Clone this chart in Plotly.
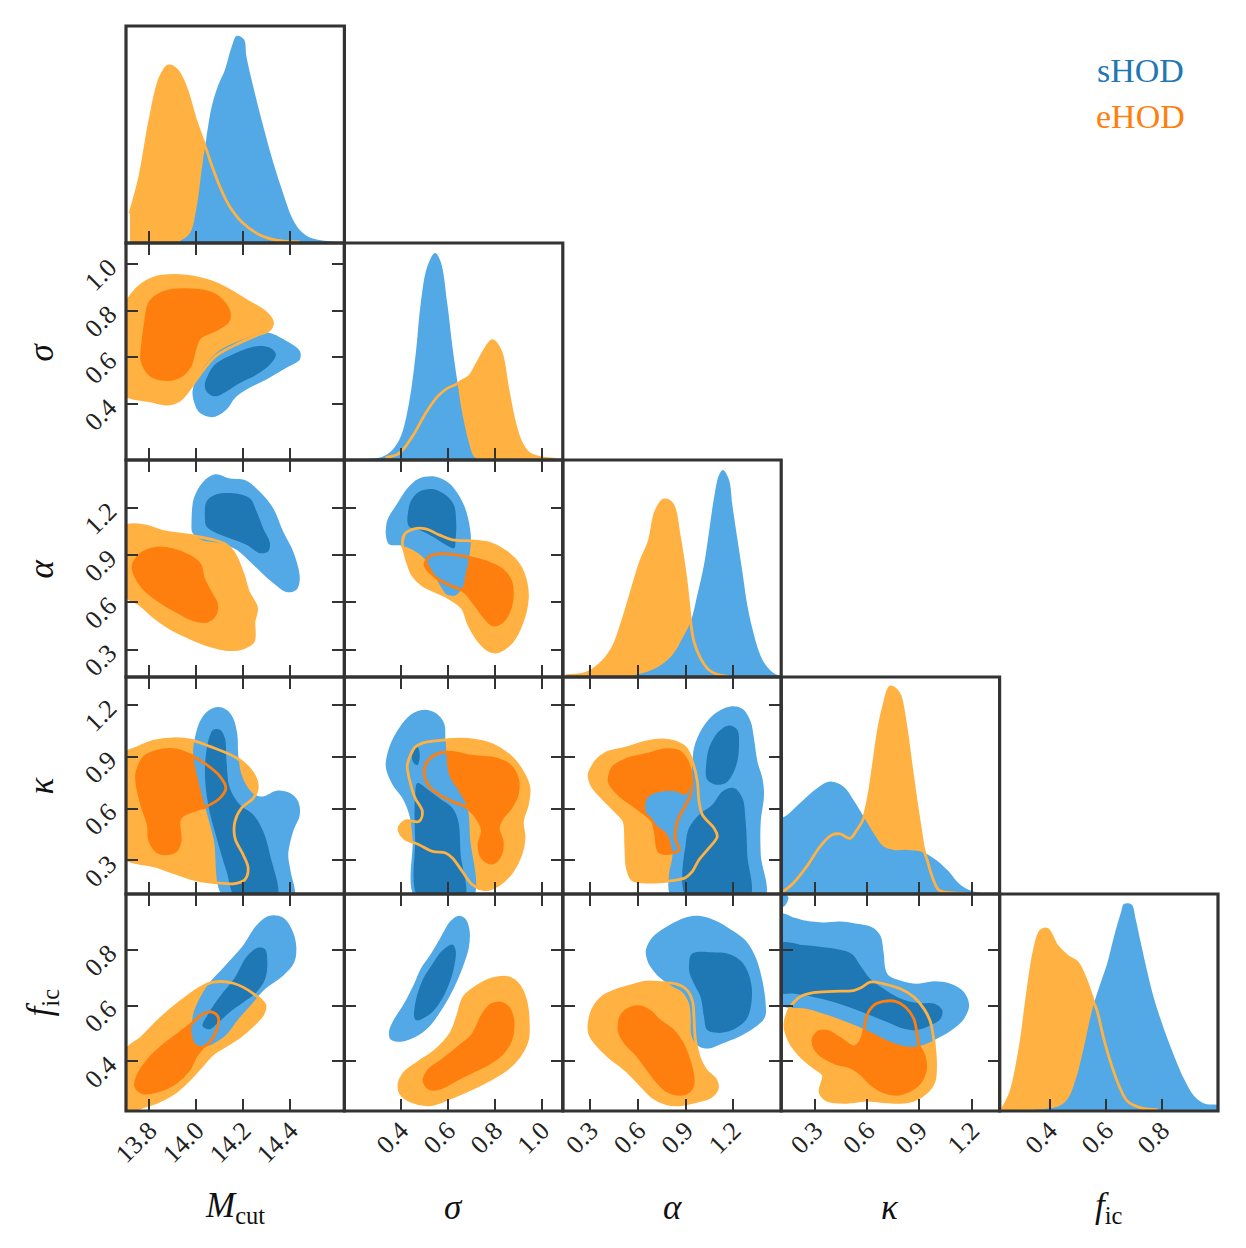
import plotly.graph_objects as go

# ---- colours ----
BLUE_LIGHT = "#52a9e5"
BLUE_DARK = "#1f77b4"
ORANGE_LIGHT = "#ffb142"
ORANGE_DARK = "#ff7f0e"
FRAME = "#333333"
FONT = "Liberation Serif, DejaVu Serif, serif"

# ---- parameters ----
names = ["mcut", "sig", "alp", "kap", "fic"]
titles = ["<i>M</i><sub>cut</sub>", "<i>σ</i>", "<i>α</i>", "<i>κ</i>", "<i>f</i><sub>ic</sub>"]
ranges = [[13.701, 14.631], [0.16, 1.09], [0.126, 1.503], [0.106, 1.36], [0.222, 1.0]]
tickvals = [[13.8, 14.0, 14.2, 14.4], [0.4, 0.6, 0.8, 1.0], [0.3, 0.6, 0.9, 1.2],
            [0.3, 0.6, 0.9, 1.2], [0.4, 0.6, 0.8]]
ticktext = [["13.8", "14.0", "14.2", "14.4"], ["0.4", "0.6", "0.8", "1.0"], ["0.3", "0.6", "0.9", "1.2"],
            ["0.3", "0.6", "0.9", "1.2"], ["0.4", "0.6", "0.8"]]
peak_range = [0, 1.048]

# ---- 1D marginals (x, relative density) ----
shod_mcut_1d = [(13.931, 0.01), (13.973, 0.047), (14.002, 0.175), (14.023, 0.353), (14.044, 0.514), (14.066, 0.659),
                (14.094, 0.763), (14.122, 0.836), (14.151, 0.948), (14.172, 1.0), (14.203, 0.984), (14.214, 0.9),
                (14.243, 0.755), (14.286, 0.562), (14.329, 0.385), (14.37, 0.24), (14.406, 0.127), (14.441, 0.063),
                (14.484, 0.027), (14.555, 0.01), (14.61, 0.005)]
ehod_mcut_1d = [(13.718, 0.143), (13.76, 0.32), (13.803, 0.594), (13.846, 0.796), (13.881, 0.855), (13.917, 0.836),
                (13.952, 0.763), (14.002, 0.578), (14.044, 0.449), (14.058, 0.401), (14.101, 0.272), (14.143, 0.175),
                (14.2, 0.095), (14.271, 0.039), (14.342, 0.014), (14.441, 0.005)]
shod_sig_1d = [(0.166, 0.003), (0.322, 0.016), (0.364, 0.048), (0.4, 0.113), (0.435, 0.274), (0.464, 0.515),
               (0.485, 0.757), (0.513, 0.934), (0.546, 1.0), (0.570, 0.958), (0.598, 0.757), (0.620, 0.547),
               (0.641, 0.378), (0.662, 0.226), (0.691, 0.081), (0.712, 0.016), (0.733, 0.003)]
ehod_sig_1d = [(0.336, 0.013), (0.393, 0.032), (0.449, 0.113), (0.506, 0.226), (0.556, 0.306), (0.598, 0.346),
               (0.631, 0.362), (0.655, 0.378), (0.691, 0.402), (0.726, 0.467), (0.762, 0.54), (0.79, 0.577),
               (0.826, 0.523), (0.854, 0.354), (0.882, 0.193), (0.911, 0.088), (0.946, 0.032), (0.989, 0.013),
               (1.06, 0.003)]
shod_alp_1d = [(0.565, 0.006), (0.712, 0.042), (0.817, 0.106), (0.880, 0.187), (0.932, 0.267), (0.974, 0.396),
               (1.016, 0.541), (1.048, 0.702), (1.079, 0.863), (1.111, 0.976), (1.136, 1.0), (1.174, 0.952),
               (1.195, 0.831), (1.226, 0.670), (1.258, 0.509), (1.289, 0.348), (1.321, 0.235), (1.363, 0.122),
               (1.405, 0.058), (1.468, 0.013), (1.51, 0.006)]
ehod_alp_1d = [(0.145, 0.006), (0.271, 0.018), (0.355, 0.058), (0.439, 0.138), (0.502, 0.267), (0.565, 0.428),
               (0.617, 0.557), (0.670, 0.654), (0.712, 0.799), (0.764, 0.855), (0.817, 0.834), (0.859, 0.686),
               (0.901, 0.477), (0.932, 0.267), (0.953, 0.171), (0.995, 0.090), (1.048, 0.034), (1.111, 0.010),
               (1.174, 0.003)]
shod_kap_1d = [(0.09, 0.366), (0.127, 0.374), (0.213, 0.438), (0.310, 0.510), (0.387, 0.543), (0.463, 0.519),
               (0.521, 0.454), (0.579, 0.374), (0.637, 0.293), (0.694, 0.229), (0.752, 0.213), (0.829, 0.213),
               (0.906, 0.205), (0.983, 0.172), (1.060, 0.116), (1.137, 0.043), (1.213, 0.011), (1.329, 0.003)]
ehod_kap_1d = [(0.117, 0.011), (0.175, 0.052), (0.252, 0.132), (0.329, 0.229), (0.396, 0.285), (0.444, 0.290),
               (0.502, 0.269), (0.540, 0.309), (0.575, 0.357), (0.608, 0.470), (0.637, 0.631), (0.665, 0.792),
               (0.694, 0.905), (0.733, 1.0), (0.781, 0.969), (0.819, 0.824), (0.848, 0.647), (0.877, 0.470),
               (0.906, 0.309), (0.925, 0.213), (0.944, 0.164), (0.973, 0.084), (1.012, 0.019), (1.079, 0.006),
               (1.175, 0.003)]
shod_fic_1d = [(0.344, 0.007), (0.427, 0.020), (0.463, 0.056), (0.493, 0.152), (0.523, 0.313), (0.552, 0.490),
               (0.582, 0.619), (0.606, 0.716), (0.630, 0.845), (0.654, 0.957), (0.665, 1.0), (0.692, 0.997),
               (0.707, 0.925), (0.725, 0.812), (0.749, 0.667), (0.773, 0.539), (0.808, 0.394), (0.844, 0.265),
               (0.880, 0.152), (0.915, 0.072), (0.951, 0.036), (0.987, 0.031), (1.01, 0.031)]
ehod_fic_1d = [(0.231, 0.007), (0.261, 0.088), (0.296, 0.313), (0.320, 0.555), (0.344, 0.764), (0.368, 0.869),
               (0.392, 0.877), (0.427, 0.796), (0.463, 0.748), (0.499, 0.716), (0.529, 0.635), (0.558, 0.523),
               (0.568, 0.490), (0.594, 0.345), (0.618, 0.233), (0.648, 0.120), (0.677, 0.048), (0.725, 0.015),
               (0.785, 0.007)]

# ---- 2D credible regions: _1 = 68%, _2 = 95% ----
# Mcut - sigma
ehod_mcut_sig_2 = [(13.68, 0.454), (13.68, 0.777), (13.746, 0.893), (13.817, 0.939), (13.959, 0.948), (14.087, 0.915),
                   (14.214, 0.843), (14.299, 0.789), (14.325, 0.749), (14.306, 0.713), (14.257, 0.694), (14.157, 0.648),
                   (14.079, 0.602), (14.016, 0.526), (13.980, 0.476), (13.931, 0.418), (13.881, 0.400), (13.817, 0.411)]
ehod_mcut_sig_1 = [(13.768, 0.620), (13.782, 0.735), (13.803, 0.835), (13.860, 0.878), (13.959, 0.890), (14.073, 0.871),
                   (14.136, 0.807), (14.136, 0.756), (14.087, 0.720), (14.016, 0.685), (13.994, 0.634), (13.973, 0.562),
                   (13.931, 0.519), (13.874, 0.505), (13.803, 0.526), (13.768, 0.591)]
shod_mcut_sig_2 = [(13.985, 0.461), (14.016, 0.533), (14.087, 0.620), (14.200, 0.677), (14.299, 0.706), (14.384, 0.670),
                   (14.441, 0.627), (14.441, 0.591), (14.384, 0.555), (14.299, 0.505), (14.214, 0.462), (14.165, 0.426),
                   (14.129, 0.376), (14.073, 0.344), (14.016, 0.361), (13.992, 0.404)]
shod_mcut_sig_1 = [(14.037, 0.490), (14.073, 0.562), (14.157, 0.613), (14.257, 0.648), (14.314, 0.641), (14.339, 0.613),
                   (14.314, 0.569), (14.257, 0.526), (14.186, 0.490), (14.129, 0.454), (14.080, 0.433), (14.044, 0.454)]
# Mcut - alpha
ehod_mcut_alp_2 = [(13.68, 1.070), (13.775, 1.087), (13.860, 1.049), (13.959, 1.028), (14.073, 0.996), (14.129, 0.965),
                   (14.165, 0.901), (14.200, 0.775), (14.221, 0.669), (14.257, 0.564), (14.246, 0.479), (14.243, 0.353),
                   (14.200, 0.311), (14.143, 0.300), (14.044, 0.332), (13.959, 0.384), (13.888, 0.437), (13.817, 0.511),
                   (13.761, 0.585), (13.68, 0.669)]
ehod_mcut_alp_1 = [(13.732, 0.838), (13.760, 0.901), (13.831, 0.943), (13.902, 0.933), (13.973, 0.891), (14.016, 0.838),
                   (14.030, 0.754), (14.058, 0.669), (14.087, 0.585), (14.080, 0.522), (14.044, 0.479), (13.987, 0.490),
                   (13.916, 0.543), (13.845, 0.606), (13.775, 0.691), (13.739, 0.775)]
shod_mcut_alp_2 = [(13.980, 1.112), (13.990, 1.260), (14.030, 1.365), (14.080, 1.412), (14.143, 1.386), (14.207, 1.376),
                   (14.271, 1.302), (14.328, 1.197), (14.370, 1.049), (14.413, 0.922), (14.441, 0.754), (14.427, 0.680),
                   (14.384, 0.665), (14.328, 0.722), (14.243, 0.838), (14.172, 0.933), (14.101, 0.975), (14.023, 0.996),
                   (13.985, 1.038)]
shod_mcut_alp_1 = [(14.037, 1.133), (14.044, 1.239), (14.087, 1.285), (14.157, 1.292), (14.228, 1.260), (14.257, 1.176),
                   (14.285, 1.070), (14.314, 0.975), (14.306, 0.922), (14.271, 0.912), (14.214, 0.965), (14.143, 1.007),
                   (14.087, 1.038), (14.044, 1.081)]
# Mcut - kappa
ehod_mcut_kap_2 = [(13.68, 0.333), (13.68, 0.901), (13.746, 0.949), (13.817, 0.988), (13.902, 1.003), (13.987, 0.992),
                   (14.058, 0.959), (14.172, 0.892), (14.236, 0.814), (14.260, 0.728), (14.243, 0.660), (14.193, 0.603),
                   (14.165, 0.526), (14.165, 0.429), (14.200, 0.333), (14.221, 0.256), (14.207, 0.188), (14.157, 0.165),
                   (14.101, 0.169), (14.002, 0.188), (13.931, 0.217), (13.831, 0.265)]
ehod_mcut_kap_1 = [(13.746, 0.795), (13.775, 0.892), (13.831, 0.930), (13.902, 0.940), (13.973, 0.911), (14.044, 0.853),
                   (14.101, 0.786), (14.126, 0.718), (14.101, 0.660), (14.044, 0.612), (14.002, 0.593), (13.931, 0.545),
                   (13.931, 0.410), (13.910, 0.352), (13.845, 0.343), (13.803, 0.410), (13.796, 0.506), (13.768, 0.622)]
shod_mcut_kap_2 = [(13.994, 1.007), (14.016, 1.104), (14.051, 1.165), (14.094, 1.187), (14.129, 1.171), (14.157, 1.123),
                   (14.175, 1.027), (14.179, 0.911), (14.193, 0.796), (14.221, 0.719), (14.250, 0.680), (14.285, 0.670),
                   (14.342, 0.703), (14.399, 0.689), (14.434, 0.641), (14.441, 0.564), (14.413, 0.468), (14.392, 0.333),
                   (14.402, 0.237), (14.413, 0.08), (14.122, 0.08), (14.073, 0.429), (14.016, 0.718), (13.987, 0.911)]
shod_mcut_kap_1 = [(14.051, 0.988), (14.072, 1.055), (14.101, 1.055), (14.122, 1.007), (14.129, 0.873), (14.143, 0.719),
                   (14.186, 0.622), (14.243, 0.564), (14.285, 0.468), (14.314, 0.333), (14.342, 0.08), (14.172, 0.08),
                   (14.129, 0.237), (14.087, 0.429), (14.051, 0.622), (14.037, 0.815)]
# Mcut - f_ic
ehod_mcut_fic_2 = [(13.68, 0.417), (13.760, 0.479), (13.845, 0.551), (13.931, 0.612), (14.016, 0.663), (14.073, 0.684),
                   (14.158, 0.680), (14.243, 0.643), (14.292, 0.602), (14.285, 0.571), (14.243, 0.530), (14.186, 0.489),
                   (14.130, 0.458), (14.073, 0.428), (14.016, 0.376), (13.959, 0.325), (13.902, 0.284), (13.831, 0.253),
                   (13.760, 0.233), (13.68, 0.20)]
ehod_mcut_fic_1 = [(13.742, 0.312), (13.751, 0.348), (13.799, 0.408), (13.875, 0.467), (13.970, 0.527), (14.027, 0.569),
                   (14.065, 0.577), (14.094, 0.557), (14.088, 0.515), (14.056, 0.467), (14.027, 0.449), (13.999, 0.419),
                   (13.970, 0.371), (13.913, 0.324), (13.837, 0.294), (13.771, 0.288)]
shod_mcut_fic_2 = [(13.980, 0.503), (13.989, 0.575), (14.046, 0.670), (14.122, 0.742), (14.198, 0.814), (14.255, 0.886),
                   (14.312, 0.922), (14.369, 0.916), (14.407, 0.874), (14.426, 0.814), (14.417, 0.754), (14.369, 0.706),
                   (14.293, 0.659), (14.236, 0.605), (14.179, 0.551), (14.122, 0.491), (14.046, 0.455), (13.999, 0.461)]
shod_mcut_fic_1 = [(14.027, 0.527), (14.046, 0.563), (14.103, 0.635), (14.160, 0.694), (14.217, 0.778), (14.265, 0.808),
                   (14.293, 0.802), (14.303, 0.754), (14.293, 0.694), (14.255, 0.646), (14.198, 0.610), (14.141, 0.575),
                   (14.094, 0.539), (14.056, 0.515)]
# sigma - alpha
shod_sig_alp_2 = [(0.336, 1.038), (0.343, 1.122), (0.386, 1.228), (0.428, 1.323), (0.478, 1.386), (0.549, 1.397),
                  (0.606, 1.355), (0.651, 1.270), (0.679, 1.176), (0.698, 1.028), (0.693, 0.901), (0.676, 0.775),
                  (0.662, 0.690), (0.634, 0.644), (0.598, 0.648), (0.570, 0.701), (0.535, 0.796), (0.499, 0.880),
                  (0.450, 0.933), (0.400, 0.960), (0.350, 0.969)]
shod_sig_alp_1 = [(0.428, 1.133), (0.442, 1.239), (0.478, 1.302), (0.535, 1.319), (0.591, 1.281), (0.626, 1.218),
                  (0.636, 1.112), (0.634, 1.007), (0.627, 0.943), (0.591, 0.965), (0.535, 1.017), (0.478, 1.060),
                  (0.435, 1.081)]
ehod_sig_alp_2 = [(0.407, 0.965), (0.414, 1.028), (0.457, 1.066), (0.506, 1.066), (0.563, 1.028), (0.620, 0.996),
                  (0.705, 0.990), (0.776, 0.975), (0.847, 0.922), (0.903, 0.838), (0.932, 0.733), (0.939, 0.627),
                  (0.918, 0.479), (0.875, 0.353), (0.818, 0.289), (0.783, 0.289), (0.733, 0.353), (0.690, 0.458),
                  (0.662, 0.564), (0.606, 0.627), (0.549, 0.669), (0.492, 0.711), (0.450, 0.775), (0.428, 0.859),
                  (0.414, 0.933)]
ehod_sig_alp_1 = [(0.503, 0.838), (0.521, 0.891), (0.563, 0.908), (0.634, 0.901), (0.705, 0.880), (0.776, 0.849),
                  (0.832, 0.806), (0.868, 0.733), (0.875, 0.648), (0.861, 0.543), (0.826, 0.469), (0.790, 0.458),
                  (0.748, 0.522), (0.712, 0.595), (0.669, 0.669), (0.620, 0.701), (0.563, 0.743), (0.528, 0.785)]
# sigma - kappa
shod_sig_kap_2 = [(0.336, 0.844), (0.350, 0.950), (0.393, 1.065), (0.442, 1.142), (0.499, 1.171), (0.549, 1.152),
                  (0.584, 1.094), (0.591, 0.988), (0.606, 0.795), (0.648, 0.699), (0.684, 0.603), (0.695, 0.429),
                  (0.705, 0.08), (0.464, 0.08), (0.450, 0.429), (0.436, 0.564), (0.407, 0.661), (0.365, 0.738)]
shod_sig_kap_1 = [(0.471, 0.747), (0.506, 0.718), (0.563, 0.661), (0.620, 0.603), (0.645, 0.526), (0.655, 0.333),
                  (0.669, 0.08), (0.478, 0.08), (0.461, 0.429), (0.461, 0.680)]
shod_sig_kap_1b = [(0.450, 0.938), (0.471, 0.957), (0.481, 0.909), (0.471, 0.851), (0.452, 0.870)]
ehod_sig_kap_2 = [(0.428, 0.853), (0.457, 0.949), (0.492, 0.978), (0.591, 0.997), (0.705, 0.997), (0.790, 0.968),
                  (0.875, 0.891), (0.925, 0.795), (0.946, 0.718), (0.939, 0.622), (0.918, 0.526), (0.925, 0.429),
                  (0.911, 0.333), (0.875, 0.237), (0.818, 0.160), (0.762, 0.131), (0.705, 0.160), (0.662, 0.237),
                  (0.620, 0.314), (0.591, 0.343), (0.535, 0.352), (0.478, 0.391), (0.414, 0.429), (0.393, 0.487),
                  (0.421, 0.529), (0.478, 0.526), (0.492, 0.583), (0.461, 0.661), (0.439, 0.757)]
ehod_sig_kap_1 = [(0.499, 0.814), (0.513, 0.872), (0.563, 0.920), (0.620, 0.924), (0.705, 0.901), (0.790, 0.891),
                  (0.861, 0.853), (0.896, 0.776), (0.896, 0.680), (0.868, 0.603), (0.832, 0.545), (0.815, 0.487),
                  (0.832, 0.410), (0.825, 0.333), (0.790, 0.285), (0.748, 0.314), (0.733, 0.391), (0.748, 0.468),
                  (0.733, 0.526), (0.684, 0.603), (0.620, 0.641), (0.563, 0.680), (0.521, 0.728)]
# alpha - kappa
ehod_alp_kap_2 = [(0.292, 0.795), (0.334, 0.872), (0.397, 0.920), (0.523, 0.949), (0.649, 0.984), (0.754, 0.997),
                  (0.838, 0.984), (0.901, 0.949), (0.943, 0.872), (0.974, 0.757), (0.985, 0.641), (1.006, 0.564),
                  (1.079, 0.487), (1.100, 0.439), (1.048, 0.372), (0.985, 0.304), (0.943, 0.237), (0.901, 0.202),
                  (0.817, 0.183), (0.691, 0.175), (0.565, 0.189), (0.533, 0.256), (0.523, 0.391), (0.512, 0.526),
                  (0.460, 0.583), (0.376, 0.661), (0.313, 0.728)]
ehod_alp_kap_1 = [(0.418, 0.757), (0.439, 0.834), (0.523, 0.882), (0.649, 0.911), (0.775, 0.940), (0.859, 0.930),
                  (0.911, 0.872), (0.939, 0.776), (0.932, 0.680), (0.890, 0.603), (0.848, 0.526), (0.834, 0.429),
                  (0.859, 0.362), (0.817, 0.343), (0.733, 0.352), (0.712, 0.449), (0.691, 0.526), (0.649, 0.564),
                  (0.565, 0.622), (0.481, 0.680)]
shod_alp_kap_2 = [(0.817, 0.08), (0.796, 0.217), (0.817, 0.333), (0.785, 0.449), (0.712, 0.507), (0.649, 0.583),
                  (0.659, 0.661), (0.733, 0.695), (0.838, 0.699), (0.901, 0.680), (0.932, 0.738), (0.943, 0.853),
                  (0.953, 0.949), (1.006, 1.065), (1.090, 1.152), (1.184, 1.190), (1.258, 1.176), (1.310, 1.103),
                  (1.331, 1.007), (1.353, 0.872), (1.384, 0.776), (1.395, 0.680), (1.374, 0.526), (1.374, 0.333),
                  (1.395, 0.08)]
shod_alp_kap_1 = [(1.027, 0.814), (1.048, 0.949), (1.111, 1.046), (1.174, 1.080), (1.226, 1.055), (1.237, 0.969),
                  (1.226, 0.872), (1.195, 0.795), (1.153, 0.747), (1.090, 0.738), (1.037, 0.766)]
shod_alp_kap_1b = [(0.911, 0.08), (0.901, 0.391), (0.922, 0.487), (0.985, 0.564), (1.069, 0.622), (1.132, 0.699),
                   (1.205, 0.718), (1.258, 0.661), (1.279, 0.526), (1.289, 0.333), (1.300, 0.08)]
# sigma - f_ic
shod_sig_fic_2 = [(0.350, 0.506), (0.365, 0.541), (0.414, 0.607), (0.457, 0.678), (0.485, 0.732), (0.528, 0.785),
                  (0.570, 0.845), (0.613, 0.904), (0.648, 0.922), (0.676, 0.910), (0.693, 0.869), (0.690, 0.809),
                  (0.669, 0.749), (0.641, 0.690), (0.606, 0.630), (0.563, 0.571), (0.520, 0.523), (0.464, 0.488),
                  (0.400, 0.470), (0.357, 0.478)]
shod_sig_fic_1 = [(0.457, 0.559), (0.464, 0.618), (0.492, 0.690), (0.535, 0.749), (0.577, 0.797), (0.620, 0.819),
                  (0.634, 0.797), (0.627, 0.738), (0.606, 0.678), (0.577, 0.625), (0.535, 0.577), (0.492, 0.553),
                  (0.467, 0.547)]
ehod_sig_fic_2 = [(0.393, 0.321), (0.414, 0.357), (0.478, 0.398), (0.549, 0.440), (0.613, 0.500), (0.641, 0.559),
                  (0.669, 0.630), (0.719, 0.666), (0.790, 0.696), (0.861, 0.699), (0.903, 0.672), (0.932, 0.618),
                  (0.943, 0.535), (0.939, 0.476), (0.903, 0.416), (0.847, 0.369), (0.776, 0.333), (0.690, 0.297),
                  (0.606, 0.267), (0.520, 0.244), (0.450, 0.255), (0.400, 0.285)]
ehod_sig_fic_1 = [(0.499, 0.333), (0.520, 0.369), (0.577, 0.404), (0.648, 0.452), (0.705, 0.494), (0.748, 0.565),
                  (0.783, 0.601), (0.826, 0.609), (0.861, 0.589), (0.878, 0.535), (0.868, 0.476), (0.832, 0.428),
                  (0.776, 0.393), (0.705, 0.363), (0.634, 0.333), (0.563, 0.303), (0.520, 0.303)]
# alpha - f_ic
shod_alp_fic_2 = [(0.659, 0.762), (0.649, 0.797), (0.691, 0.845), (0.775, 0.881), (0.901, 0.916), (0.985, 0.922),
                  (1.090, 0.904), (1.195, 0.869), (1.279, 0.833), (1.342, 0.773), (1.384, 0.690), (1.405, 0.607),
                  (1.401, 0.559), (1.342, 0.524), (1.237, 0.488), (1.132, 0.464), (1.048, 0.446), (0.985, 0.453),
                  (0.939, 0.488), (0.932, 0.559), (0.922, 0.607), (0.880, 0.648), (0.806, 0.672), (0.733, 0.702),
                  (0.680, 0.738)]
shod_alp_fic_1 = [(0.922, 0.726), (0.932, 0.780), (0.964, 0.791), (1.069, 0.791), (1.174, 0.785), (1.247, 0.761),
                  (1.289, 0.726), (1.317, 0.666), (1.311, 0.595), (1.279, 0.547), (1.195, 0.512), (1.111, 0.502),
                  (1.037, 0.512), (1.016, 0.559), (0.995, 0.630), (0.953, 0.678)]
ehod_alp_fic_2 = [(0.292, 0.535), (0.313, 0.583), (0.376, 0.630), (0.460, 0.654), (0.565, 0.672), (0.649, 0.684),
                  (0.754, 0.682), (0.838, 0.678), (0.901, 0.660), (0.943, 0.618), (0.953, 0.559), (0.960, 0.488),
                  (0.985, 0.416), (1.027, 0.369), (1.090, 0.333), (1.100, 0.303), (1.058, 0.273), (0.964, 0.256),
                  (0.859, 0.244), (0.775, 0.249), (0.691, 0.273), (0.607, 0.321), (0.523, 0.369), (0.418, 0.416),
                  (0.334, 0.464), (0.296, 0.499)]
ehod_alp_fic_1 = [(0.481, 0.511), (0.491, 0.559), (0.544, 0.589), (0.617, 0.595), (0.680, 0.577), (0.733, 0.547),
                  (0.817, 0.512), (0.880, 0.464), (0.922, 0.404), (0.947, 0.345), (0.943, 0.309), (0.901, 0.285),
                  (0.838, 0.283), (0.775, 0.297), (0.712, 0.333), (0.649, 0.381), (0.586, 0.428), (0.523, 0.464)]
# kappa - f_ic
shod_kap_fic_2 = [(0.09, 0.928), (0.175, 0.916), (0.252, 0.904), (0.348, 0.898), (0.444, 0.901), (0.540, 0.893),
                  (0.627, 0.881), (0.675, 0.851), (0.694, 0.791), (0.704, 0.732), (0.723, 0.708), (0.790, 0.690),
                  (0.887, 0.678), (0.983, 0.687), (1.079, 0.678), (1.156, 0.648), (1.185, 0.601), (1.156, 0.553),
                  (1.098, 0.518), (1.021, 0.488), (0.944, 0.464), (0.867, 0.452), (0.790, 0.458), (0.713, 0.476),
                  (0.637, 0.500), (0.540, 0.527), (0.406, 0.559), (0.252, 0.589), (0.09, 0.607)]
shod_kap_fic_2b = [(0.09, 1.01), (0.146, 0.99), (0.127, 0.958), (0.09, 0.952)]
shod_kap_fic_1 = [(0.09, 0.821), (0.213, 0.818), (0.348, 0.809), (0.444, 0.800), (0.512, 0.785), (0.560, 0.744),
                  (0.617, 0.696), (0.694, 0.660), (0.790, 0.625), (0.887, 0.609), (0.983, 0.607), (1.031, 0.583),
                  (1.021, 0.553), (0.963, 0.529), (0.887, 0.512), (0.810, 0.517), (0.713, 0.541), (0.617, 0.565),
                  (0.521, 0.589), (0.406, 0.613), (0.290, 0.631), (0.175, 0.643), (0.09, 0.648)]
ehod_kap_fic_2 = [(0.165, 0.601), (0.213, 0.631), (0.290, 0.646), (0.406, 0.651), (0.521, 0.654), (0.569, 0.666),
                  (0.617, 0.684), (0.694, 0.678), (0.790, 0.660), (0.867, 0.631), (0.925, 0.589), (0.963, 0.541),
                  (0.983, 0.470), (0.992, 0.375), (0.983, 0.327), (0.944, 0.291), (0.867, 0.261), (0.790, 0.253),
                  (0.694, 0.256), (0.598, 0.261), (0.483, 0.253), (0.367, 0.261), (0.329, 0.291), (0.348, 0.351),
                  (0.290, 0.380), (0.213, 0.422), (0.156, 0.470), (0.127, 0.529)]
ehod_kap_fic_1 = [(0.290, 0.482), (0.319, 0.505), (0.367, 0.508), (0.444, 0.482), (0.521, 0.452), (0.560, 0.470),
                  (0.579, 0.505), (0.598, 0.565), (0.637, 0.601), (0.694, 0.615), (0.762, 0.615), (0.819, 0.595),
                  (0.867, 0.553), (0.887, 0.494), (0.896, 0.458), (0.925, 0.422), (0.935, 0.375), (0.906, 0.327),
                  (0.848, 0.297), (0.771, 0.282), (0.694, 0.291), (0.617, 0.321), (0.560, 0.357), (0.502, 0.380),
                  (0.425, 0.392), (0.348, 0.416), (0.300, 0.446)]

# (column, row) -> sHOD 95%, sHOD 68%, eHOD 95%, eHOD 68%
contours = {
    (0, 1): ([shod_mcut_sig_2], [shod_mcut_sig_1], [ehod_mcut_sig_2], [ehod_mcut_sig_1]),
    (0, 2): ([shod_mcut_alp_2], [shod_mcut_alp_1], [ehod_mcut_alp_2], [ehod_mcut_alp_1]),
    (0, 3): ([shod_mcut_kap_2], [shod_mcut_kap_1], [ehod_mcut_kap_2], [ehod_mcut_kap_1]),
    (0, 4): ([shod_mcut_fic_2], [shod_mcut_fic_1], [ehod_mcut_fic_2], [ehod_mcut_fic_1]),
    (1, 2): ([shod_sig_alp_2], [shod_sig_alp_1], [ehod_sig_alp_2], [ehod_sig_alp_1]),
    (1, 3): ([shod_sig_kap_2], [shod_sig_kap_1, shod_sig_kap_1b], [ehod_sig_kap_2], [ehod_sig_kap_1]),
    (1, 4): ([shod_sig_fic_2], [shod_sig_fic_1], [ehod_sig_fic_2], [ehod_sig_fic_1]),
    (2, 3): ([shod_alp_kap_2], [shod_alp_kap_1, shod_alp_kap_1b], [ehod_alp_kap_2], [ehod_alp_kap_1]),
    (2, 4): ([shod_alp_fic_2], [shod_alp_fic_1], [ehod_alp_fic_2], [ehod_alp_fic_1]),
    (3, 4): ([shod_kap_fic_2, shod_kap_fic_2b], [shod_kap_fic_1], [ehod_kap_fic_2], [ehod_kap_fic_1]),
}
marginals = [(shod_mcut_1d, ehod_mcut_1d), (shod_sig_1d, ehod_sig_1d), (shod_alp_1d, ehod_alp_1d),
             (shod_kap_1d, ehod_kap_1d), (shod_fic_1d, ehod_fic_1d)]


def ring(poly):
    pts = poly + poly[:2]
    return [p[0] for p in pts], [p[1] for p in pts]


def fill_trace(poly, colour, ax):
    xs, ys = ring(poly)
    return go.Scatter(x=xs, y=ys, mode="lines", fill="toself", fillcolor=colour,
                      line=dict(width=0, shape="spline", smoothing=1.0, color=colour),
                      hoverinfo="skip", showlegend=False, xaxis="x" + ax, yaxis="y" + ax)


def edge_trace(poly, colour, ax):
    xs, ys = ring(poly)
    return go.Scatter(x=xs, y=ys, mode="lines", line=dict(width=2.8, shape="spline", smoothing=1.0, color=colour),
                      hoverinfo="skip", showlegend=False, xaxis="x" + ax, yaxis="y" + ax)


fig = go.Figure()
n = 5
k = 0
frames = []
axis_common = dict(showgrid=False, zeroline=False, showline=False,
                   ticklen=12, tickwidth=1.6, tickcolor=FRAME, tickangle=-45,
                   tickfont=dict(family=FONT, size=26, color="#222222"))

for r in range(n):
    for c in range(r + 1):
        k += 1
        ax = "" if k == 1 else str(k)
        xdom = [c / n, (c + 1) / n]
        ydom = [1 - (r + 1) / n, 1 - r / n]
        if r == c:
            shod, ehod = marginals[c]
            fig.add_trace(go.Scatter(x=[p[0] for p in ehod], y=[p[1] for p in ehod], mode="lines", fill="tozeroy",
                                     fillcolor=ORANGE_LIGHT, line=dict(width=0, shape="spline", color=ORANGE_LIGHT),
                                     hoverinfo="skip", showlegend=False, xaxis="x" + ax, yaxis="y" + ax))
            fig.add_trace(go.Scatter(x=[p[0] for p in shod], y=[p[1] for p in shod], mode="lines", fill="tozeroy",
                                     fillcolor=BLUE_LIGHT, line=dict(width=0, shape="spline", color=BLUE_LIGHT),
                                     hoverinfo="skip", showlegend=False, xaxis="x" + ax, yaxis="y" + ax))
            fig.add_trace(go.Scatter(x=[p[0] for p in ehod], y=[p[1] for p in ehod], mode="lines",
                                     line=dict(width=2.8, shape="spline", color=ORANGE_LIGHT),
                                     hoverinfo="skip", showlegend=False, xaxis="x" + ax, yaxis="y" + ax))
            yax = dict(domain=ydom, anchor="x" + ax, range=peak_range, showgrid=False, zeroline=False,
                       showline=False, showticklabels=False, ticks="")
            xmirror = False
        else:
            s2, s1, e2, e1 = contours[(c, r)]
            for poly in e2:
                fig.add_trace(fill_trace(poly, ORANGE_LIGHT, ax))
            for poly in e1:
                fig.add_trace(fill_trace(poly, ORANGE_DARK, ax))
            for poly in s2:
                fig.add_trace(fill_trace(poly, BLUE_LIGHT, ax))
            for poly in s1:
                fig.add_trace(fill_trace(poly, BLUE_DARK, ax))
            for poly in e2:
                fig.add_trace(edge_trace(poly, ORANGE_LIGHT, ax))
            for poly in e1:
                fig.add_trace(edge_trace(poly, ORANGE_DARK, ax))
            yax = dict(axis_common, domain=ydom, anchor="x" + ax, range=ranges[r], ticks="inside",
                       mirror="ticks", tickvals=tickvals[r], ticktext=ticktext[r],
                       showticklabels=(c == 0), ticklabelstandoff=16)
            xmirror = "ticks"
        xax = dict(axis_common, domain=xdom, anchor="y" + ax, range=ranges[c], ticks="inside", mirror=xmirror,
                   tickvals=tickvals[c], ticktext=ticktext[c], showticklabels=(r == n - 1), ticklabelstandoff=-2)
        fig.layout["xaxis" + ax] = xax
        fig.layout["yaxis" + ax] = yax
        frames.append(dict(type="rect", xref="x" + ax + " domain", yref="y" + ax + " domain",
                           x0=0, x1=1, y0=0, y1=1, layer="above",
                           line=dict(color=FRAME, width=3.2), fillcolor="rgba(0,0,0,0)"))

annotations = []
for i in range(n):
    annotations.append(dict(text=titles[i], x=(i + 0.5) / n, y=-0.0885, xref="paper", yref="paper",
                            xanchor="center", yanchor="middle", showarrow=False,
                            font=dict(family=FONT, size=35, color="#111111")))
    if i > 0:
        annotations.append(dict(text=titles[i], x=-0.077, y=1 - (i + 0.5) / n, xref="paper", yref="paper",
                                xanchor="center", yanchor="middle", textangle=-90, showarrow=False,
                                font=dict(family=FONT, size=35, color="#111111")))
annotations.append(dict(text="sHOD", x=0.9286, y=0.9594, xref="paper", yref="paper", xanchor="center",
                        yanchor="middle", showarrow=False, font=dict(family=FONT, size=34, color=BLUE_DARK)))
annotations.append(dict(text="eHOD", x=0.9286, y=0.917, xref="paper", yref="paper", xanchor="center",
                        yanchor="middle", showarrow=False, font=dict(family=FONT, size=34, color=ORANGE_DARK)))

# page body adds an 8 px offset, so the figure is drawn 8 px smaller with matching margins
fig.update_layout(width=1238, height=1240, margin=dict(l=118, r=28, t=18, b=137),
                  paper_bgcolor="white", plot_bgcolor="white", annotations=annotations,
                  shapes=frames, showlegend=False)
fig.write_html("out.html")
